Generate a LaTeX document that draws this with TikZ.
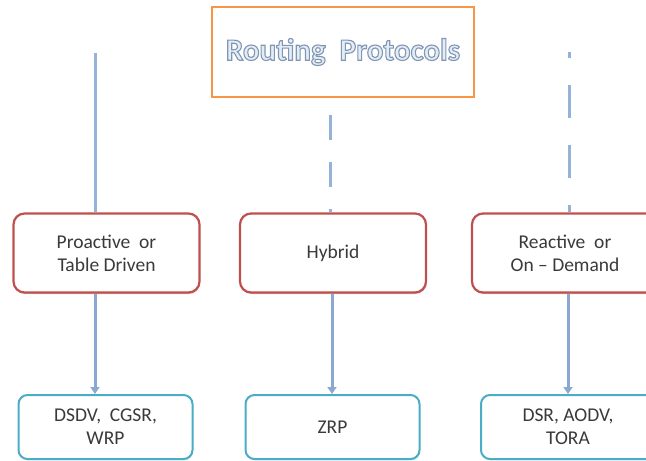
\documentclass[tikz,border=0pt]{standalone}
\usepackage{fontspec}
\setmainfont{Carlito}
\usetikzlibrary{arrows.meta,shadows}
\definecolor{orangeB}{HTML}{F79646}
\definecolor{redB}{HTML}{C0504D}
\definecolor{cyanB}{HTML}{4BACC6}
\definecolor{lineB}{HTML}{95B3D7}
\definecolor{arrB}{HTML}{8AA8D2}
\definecolor{txt}{HTML}{3A3A3A}
\definecolor{titleFill}{HTML}{E4ECF6}
\newcommand{\outlinetext}[1]{{\color{titleFill}\special{pdf:literal direct 2 Tr 1.1 w 0.50 0.59 0.71 RG}#1\special{pdf:literal direct 0 Tr}}}
\tikzset{
  topbox/.style={draw=orangeB, line width=2.5pt, fill=white, minimum width=262pt, minimum height=90pt, inner sep=0pt,
    drop shadow={shadow xshift=0.6pt, shadow yshift=-1.2pt, fill=black, opacity=0.2}},
  midbox/.style={draw=redB, line width=2.2pt, fill=white, rounded corners=11pt, minimum width=186pt, minimum height=79pt,
    align=center, text=txt, font=\fontsize{19.5}{23}\selectfont,
    drop shadow={shadow xshift=0.6pt, shadow yshift=-1.5pt, fill=redB!70!black, opacity=0.35}},
  botbox/.style={draw=cyanB, line width=2pt, fill=white, rounded corners=9pt, minimum width=174pt, minimum height=64pt,
    align=center, text=txt, font=\fontsize{19.5}{23}\selectfont,
    drop shadow={shadow xshift=0.6pt, shadow yshift=-1.2pt, fill=cyanB!70!black, opacity=0.3}},
  conn/.style={draw=lineB, line width=3pt},
  arr/.style={draw=arrB, line width=3pt, -{Triangle[width=9pt,length=7pt]}},
}
\begin{document}
\begin{tikzpicture}[x=1pt,y=-1pt]
\useasboundingbox (0,0) rectangle (646,461);
\clip (0,0) rectangle (646,461);
\node[topbox] (top) at (343,52) {};
\node (title) at (343,52) {\fontsize{31}{36}\bfseries\outlinetext{Routing\ \ Protocols}};
\node[midbox] (pro) at (106.5,253) {Proactive\ \ or\\Table Driven};
\node[midbox] (hyb) at (333,253) {Hybrid};
\node[midbox] (rea) at (565,253) {Reactive\ \ or\\On -- Demand};
\node[botbox] (b1) at (105.5,427) {DSDV,\ \ CGSR,\\WRP};
\node[botbox] (b2) at (332.5,427) {ZRP};
\node[botbox] (b3) at (568,427) {DSR, AODV,\\TORA};
\coordinate (xl) at (95,0);
\coordinate (xm) at (330,0);
\coordinate (xmb) at (332,0);
\coordinate (xr) at (569,0);
\coordinate (xrb) at (568,0);
\coordinate (topL) at (95,53);
\coordinate (topR) at (569,52);
% upper connectors
\draw[conn] (topL) -- (xl |- pro.north);
\draw[conn, dash pattern=on 25pt off 22pt, dash phase=-17pt] (xm |- top.south) -- (xm |- hyb.north);
\draw[conn, dash pattern=on 33pt off 27pt, dash phase=27pt] (topR) -- (xr |- rea.north);
% lower arrows
\draw[arr] (xl |- pro.south) -- (xl |- b1.north);
\draw[arr] (xmb |- hyb.south) -- (xmb |- b2.north);
\draw[arr] (xrb |- rea.south) -- (xrb |- b3.north);
\end{tikzpicture}
\end{document}
